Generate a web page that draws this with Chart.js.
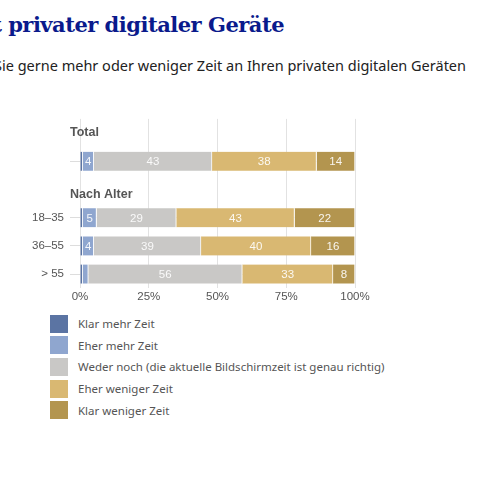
<!DOCTYPE html>
<html lang="de">
  <head>
    <meta charset="UTF-8" />
    <title>Bildschirmzeit</title>
    <script src="https://cdn.jsdelivr.net/npm/chart.js@4.4.0/dist/chart.umd.min.js"></script>
    <style>
      body { margin: 0; width: 480px; height: 480px; background: #fff; position: relative; overflow: hidden; font-family: 'Noto Sans', sans-serif; }
      #title { position: absolute; right: 196px; top: 12px; white-space: nowrap; font-family: 'DejaVu Serif', serif; font-weight: bold; font-size: 21px; color: #0a1a8c; letter-spacing: -0.5px; }
      #sub { position: absolute; right: 14px; top: 55px; white-space: nowrap; font-size: 14.5px; color: #222; }
      #wrap { position: absolute; left: 0; top: 106px; width: 480px; height: 200px; }
      #legend { position: absolute; left: 50px; top: 313px; font-size: 11.5px; color: #555; }
      #legend div { height: 21.6px; display: flex; align-items: center; }
      #legend span { display: inline-block; width: 18px; height: 18px; margin-right: 10px; }
    </style>
  </head>
  <body>
    <div id="title">Bildschirmzeit privater digitaler Geräte</div>
    <div id="sub">Würden Sie gerne mehr oder weniger Zeit an Ihren privaten digitalen Geräten</div>
    <div id="wrap"><canvas id="chart"></canvas></div>
    <div id="legend"></div>
    <script>
      // Zeilen: Überschrift, Total, Überschrift, Altersgruppen
      const rows = ['Total', '', 'Nach Alter', '18–35', '36–55', '> 55'];
      const headers = { 0: 'Total', 2: 'Nach Alter' };
      const series = ['Klar mehr Zeit', 'Eher mehr Zeit', 'Weder noch (die aktuelle Bildschirmzeit ist genau richtig)', 'Eher weniger Zeit', 'Klar weniger Zeit'];
      const colors = ['#5b74a3', '#8fa6cf', '#c9c8c6', '#d9b872', '#b3954f'];
      const klarMehr = [null, 1, null, 1, 1, 1];
      const eherMehr = [null, 4, null, 5, 4, 2];
      const weder = [null, 43, null, 29, 39, 56];
      const eherWeniger = [null, 38, null, 43, 40, 33];
      const klarWeniger = [null, 14, null, 22, 16, 8];
      const values = [klarMehr, eherMehr, weder, eherWeniger, klarWeniger];
      const xTicks = [0, 25, 50, 75, 100];

      // Legende
      const legend = document.getElementById('legend');
      series.forEach((s, i) => {
        legend.innerHTML += `<div><span style="background:${colors[i]}"></span>${s}</div>`;
      });

      // Werte in den Balken und Gruppentitel
      const labelPlugin = {
        id: 'labels',
        afterDatasetsDraw(chart) {
          const ctx = chart.ctx;
          ctx.save();
          ctx.textAlign = 'center';
          ctx.textBaseline = 'middle';
          ctx.font = '11.5px "Liberation Sans", sans-serif';
          ctx.fillStyle = 'rgba(255,255,255,0.9)';
          chart.data.datasets.forEach((ds, di) => {
            chart.getDatasetMeta(di).data.forEach((bar, i) => {
              const v = ds.data[i];
              if (v == null || v < 3) return;
              ctx.fillText(v, (bar.x + bar.base) / 2, bar.y + 1);
            });
          });
          const y = chart.scales.y;
          ctx.textAlign = 'left';
          ctx.fillStyle = '#555';
          ctx.font = 'bold 12.5px "Liberation Sans", sans-serif';
          Object.keys(headers).forEach((k) => {
            const off = k == 2 ? 5 : 0;
            ctx.fillText(headers[k], 70, y.getPixelForValue(Number(k)) + off);
          });
          ctx.restore();
        },
      };

      new Chart(document.getElementById('chart'), {
        type: 'bar',
        data: {
          labels: rows,
          datasets: values.map((d, i) => ({
            label: series[i],
            data: d,
            backgroundColor: colors[i],
            borderColor: '#fff',
            borderWidth: { left: 0, right: 1, top: 0, bottom: 0 },
            borderSkipped: false,
            barThickness: 19,
          })),
        },
        options: {
          indexAxis: 'y',
          animation: false,
          maintainAspectRatio: false,
          layout: { padding: { right: 125, top: 0 } },
          plugins: { legend: { display: false }, tooltip: { enabled: false } },
          scales: {
            x: {
              stacked: true,
              min: 0,
              max: 100,
              afterBuildTicks: (s) => { s.ticks = xTicks.map((v) => ({ value: v })); },
              ticks: { callback: (v) => v + '%', color: '#555', font: { size: 11.5 }, padding: 2 },
              grid: { color: '#e2e2e2', drawTicks: false },
              border: { display: false },
            },
            y: {
              stacked: true,
              afterFit: (s) => { s.width = 80; },
              ticks: {
                callback: (v, i) => (headers[i] !== undefined ? '' : rows[i]),
                color: '#555',
                font: { size: 11.5 },
                padding: 6,
              },
              grid: {
                color: (c) => (c.index === 0 || c.index === 2 ? 'rgba(0,0,0,0)' : '#dddddd'),
                drawTicks: true,
                tickLength: 10,
                offset: false,
              },
              border: { display: false },
            },
          },
        },
        plugins: [labelPlugin],
      });
    </script>
  </body>
</html>
